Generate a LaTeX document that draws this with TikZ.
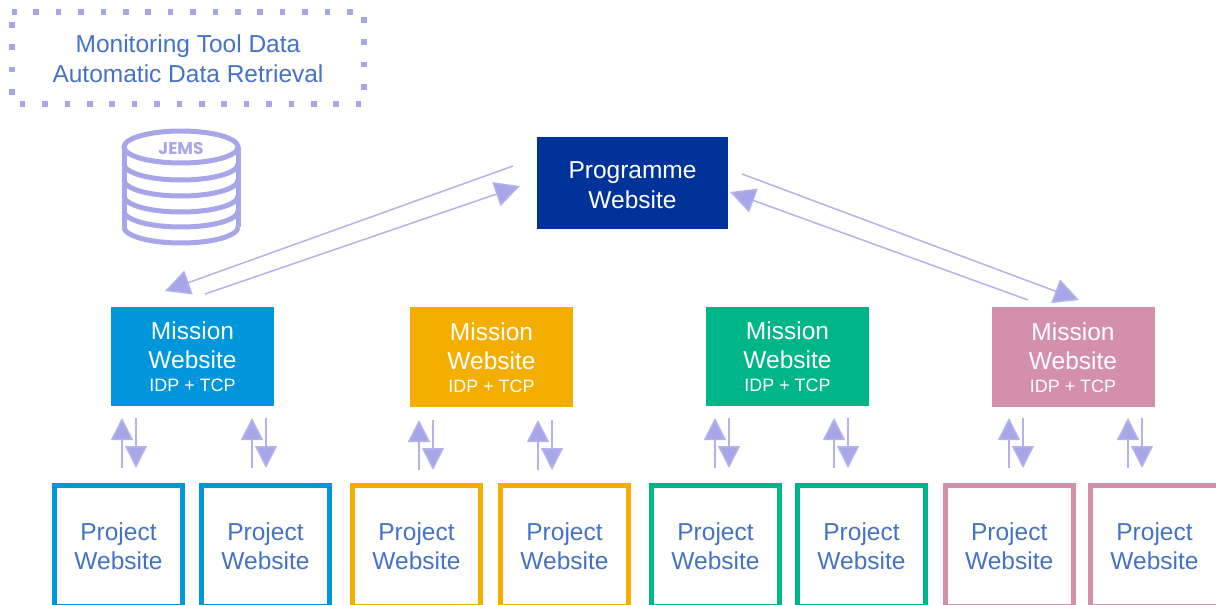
\documentclass[tikz,border=0pt]{standalone}
\usepackage{fontspec}
\setmainfont{Liberation Sans}
\usetikzlibrary{arrows.meta}
\definecolor{lav}{HTML}{A6A6E8}
\definecolor{txtblue}{HTML}{4472C4}
\definecolor{cblue}{HTML}{0096DC}
\definecolor{corange}{HTML}{F4AE00}
\definecolor{cgreen}{HTML}{00B689}
\definecolor{cpink}{HTML}{D490AB}
\definecolor{cnavy}{HTML}{003399}
\newcommand{\bigtxt}{\fontsize{24.5}{29.5}\selectfont}
\newcommand{\smalltxt}{\fontsize{17.9}{20}\selectfont}
\newcommand{\dropA}{\rule{0pt}{19.5pt}}
\newcommand{\dropB}{\rule{0pt}{21.5pt}}
\tikzset{
 x=1pt,y=-1pt,
 progbox/.style={fill=cnavy,text=white,minimum width=191pt,minimum height=92pt,align=center,inner sep=0pt,font=\bigtxt},
 misbox/.style={fill=#1,text=white,minimum width=163pt,minimum height=99pt,align=center,inner sep=0pt,font=\bigtxt},
 projbox/.style={draw=#1,line width=5pt,text=txtblue,minimum width=128pt,minimum height=121pt,align=center,inner sep=0pt,font=\bigtxt},
 flow/.style={draw=lav!85!white,line width=1.5pt,-{Triangle[length=25pt,width=25pt,fill=lav]}},
 pairflow/.style={draw=lav!85!white,line width=1.5pt,-{Triangle[length=22pt,width=22pt,fill=lav]}},
 dbline/.style={draw=lav,line width=5pt},
 dotline/.style={draw=lav,line width=5.6pt,dash pattern=on 5.6pt off 16.8pt,dash phase=0.8pt},
}
\begin{document}
\begin{tikzpicture}
\clip (0,0) rectangle (1216,605);
% monitoring note
\node[minimum width=352pt,minimum height=91.5pt,inner sep=0pt,align=center,text=txtblue,font=\bigtxt] (mon) at (188,57.75) {\dropA Monitoring Tool Data\\Automatic Data Retrieval};
\draw[dotline] (mon.north west) -- (mon.north east) -- (mon.south east) -- (mon.south west) -- cycle;
% database
\draw[dbline] (124,147) -- (124,227) (238,147) -- (238,227);
\draw[dbline] (181,147) ellipse [x radius=57,y radius=16];
\foreach \yy in {164,180,196,211,227}
  \draw[dbline] (124,\yy) arc [start angle=180,end angle=360,x radius=57,y radius=-16];
\node[text=lav,font=\fontsize{17}{20}\fontspec{Poppins}\bfseries,inner sep=0pt] (jems) at (181,149) {JEMS};
% main boxes
\node[progbox] (prog) at (632.5,183) {\dropB Programme\\Website};
\node[misbox=cblue] (m1) at (192.5,356) {\dropA Mission\\Website\\[-6.5pt]{\smalltxt IDP + TCP}};
\node[misbox=corange,minimum height=100pt] (m2) at (491.5,357) {\dropA Mission\\Website\\[-6.5pt]{\smalltxt IDP + TCP}};
\node[misbox=cgreen] (m3) at (787.5,356) {\dropA Mission\\Website\\[-6.5pt]{\smalltxt IDP + TCP}};
\node[misbox=cpink,minimum height=100pt] (m4) at (1073,357) {\dropA Mission\\Website\\[-6.5pt]{\smalltxt IDP + TCP}};
% project boxes
\node[projbox=cblue] (p1) at (118.5,545.5) {\dropA Project\\Website};
\node[projbox=cblue] (p2) at (265.5,545.5) {\dropA Project\\Website};
\node[projbox=corange] (p3) at (416.5,545.5) {\dropA Project\\Website};
\node[projbox=corange] (p4) at (564.5,545.5) {\dropA Project\\Website};
\node[projbox=cgreen] (p5) at (715.5,545.5) {\dropA Project\\Website};
\node[projbox=cgreen] (p6) at (861.5,545.5) {\dropA Project\\Website};
\node[projbox=cpink] (p7) at (1009.2,545.5) {\dropA Project\\Website};
\node[projbox=cpink] (p8) at (1154.5,545.5) {\dropA Project\\Website};
% top flows
\coordinate (a1) at (513,166); \coordinate (a2) at (165,291);
\coordinate (b1) at (205,294); \coordinate (b2) at (520,186);
\coordinate (c1) at (742,174); \coordinate (c2) at (1079,300);
\coordinate (d1) at (1028,300); \coordinate (d2) at (730,192);
\draw[flow] (a1) -- (a2);
\draw[flow] (b1) -- (b2);
\draw[flow] (c1) -- (c2);
\draw[flow] (d1) -- (d2);
% vertical pairs
\foreach \n/\xu/\yt in {1/122/418,2/252/418,3/419/420,4/538/420,5/715/418,6/834/418,7/1009/418,8/1128/418}{
  \coordinate (u\n t) at (\xu,\yt);
  \coordinate (u\n b) at (\xu,\yt+50);
  \coordinate (v\n t) at (\xu+14,\yt);
  \coordinate (v\n b) at (\xu+14,\yt+50);
  \draw[pairflow] (u\n b) -- (u\n t);
  \draw[pairflow] (v\n t) -- (v\n b);
}
\end{tikzpicture}
\end{document}
